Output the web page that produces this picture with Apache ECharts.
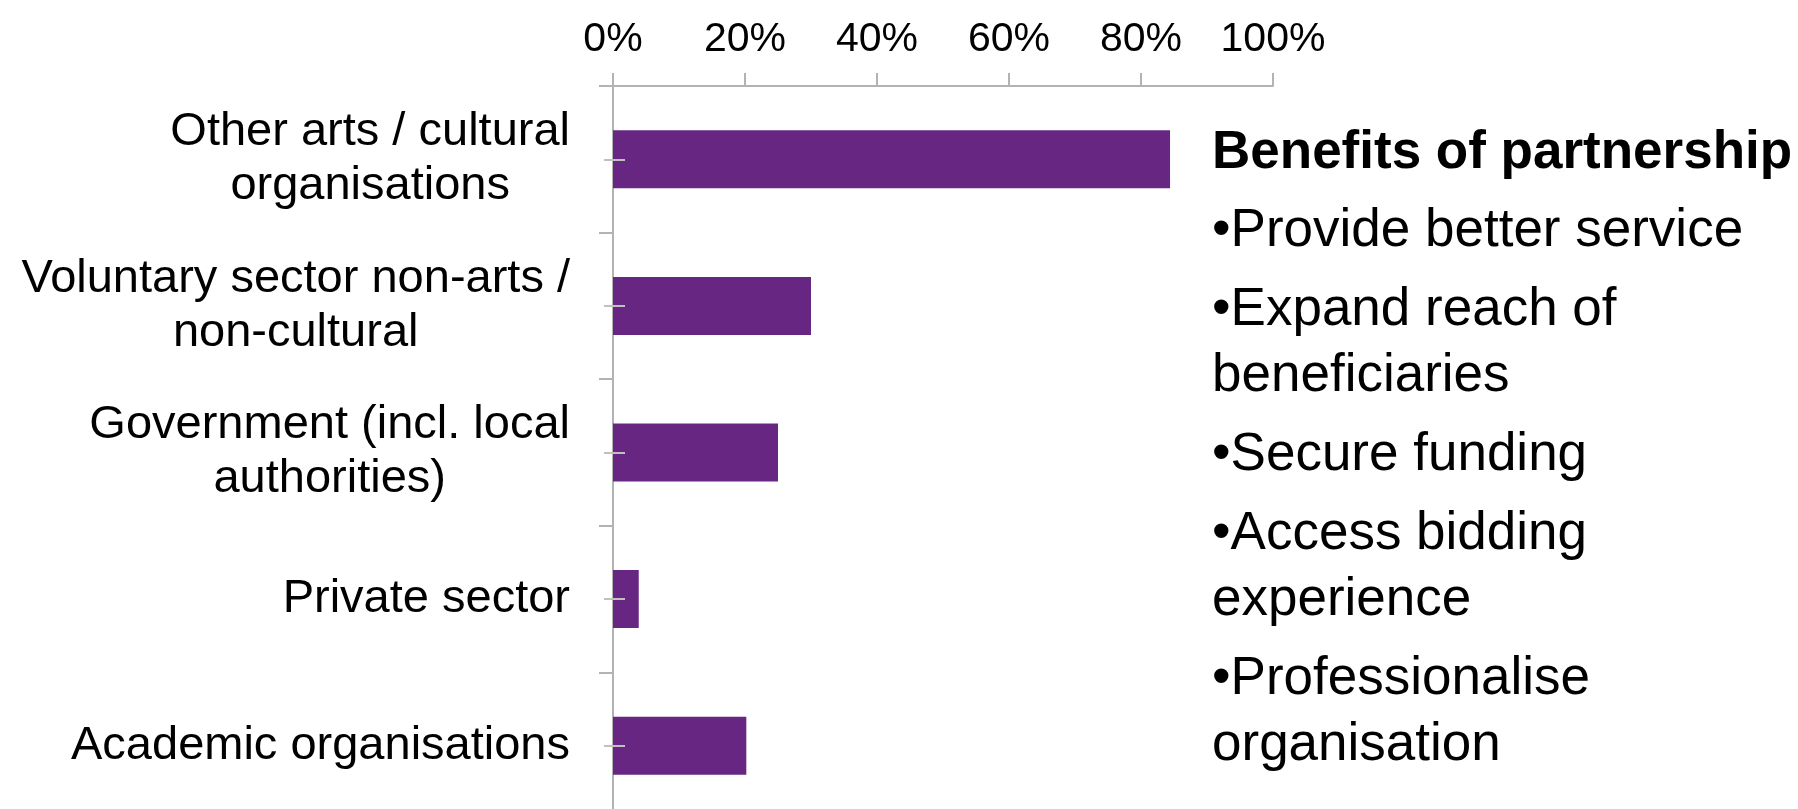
<!DOCTYPE html>
<html>
<head>
<meta charset="utf-8">
<script src="https://cdn.jsdelivr.net/npm/echarts@6/dist/echarts.min.js"></script>
<style>
html,body{margin:0;padding:0;background:#fff;}
#chart{width:1798px;height:809px;}
</style>
</head>
<body>
<div id="chart"></div>
<script>
const categories = [
  "Other arts / cultural\norganisations",
  "Voluntary sector non-arts /\nnon-cultural",
  "Government (incl. local\nauthorities)",
  "Private sector",
  "Academic organisations"
];
const values = [84.4, 30, 25, 3.9, 20.2];
const tickLabels = ["0%", "20%", "40%", "60%", "80%", "100%"];
const panelTitle = "Benefits of partnership";
const benefits = [
  ["Provide better service"],
  ["Expand reach of", "beneficiaries"],
  ["Secure funding"],
  ["Access bidding", "experience"],
  ["Professionalise", "organisation"]
];

const FONT = "'Liberation Sans', Arial, sans-serif";
const chart = echarts.init(document.getElementById('chart'), null, {renderer: 'canvas'});

// build right-hand text block
const graphics = [];
graphics.push({
  type: 'text', left: 1212, top: 127,
  style: {text: panelTitle, font: 'bold 53px ' + FONT, fill: '#000'}
});
let y = 205;
benefits.forEach(function (lines) {
  lines.forEach(function (ln, i) {
    graphics.push({
      type: 'text', left: 1212, top: y,
      style: {text: (i === 0 ? '\u2022' : '') + ln, font: '53px ' + FONT, fill: '#000'}
    });
    y += 66;
  });
  y += 13;
});

chart.setOption({
  animation: false,
  backgroundColor: '#fff',
  grid: {left: 613, width: 660, top: 86, height: 733, containLabel: false, outerBoundsMode: 'none'},
  xAxis: {
    type: 'value', position: 'top', min: 0, max: 100, interval: 20,
    axisLine: {show: true, lineStyle: {color: '#b3b3b3', width: 2}},
    axisTick: {show: true, inside: false, length: 13, lineStyle: {color: '#b3b3b3', width: 2}},
    splitLine: {show: false},
    axisLabel: {
      margin: 26, color: '#000', fontFamily: FONT, fontSize: 41,
      formatter: function (v) { return tickLabels[Math.round(v / 20)]; }
    }
  },
  yAxis: [{
    type: 'category', data: categories, inverse: true,
    axisLine: {show: true, lineStyle: {color: '#b3b3b3', width: 2}},
    axisTick: {show: true, inside: false, length: 14, lineStyle: {color: '#b3b3b3', width: 2}},
    axisLabel: {
      margin: 43, color: '#000', align: 'right',
      formatter: function (v) {
        return v.split('\n').map(function (s) { return '{c|' + s + '}'; }).join('\n');
      },
      rich: {
        c: {align: 'center', fontFamily: FONT, fontSize: 47, lineHeight: 54, color: '#000'}
      }
    },
    splitLine: {show: false}
  }, {
    type: 'category', data: categories, inverse: true, position: 'left', offset: 9, z: 5,
    axisLine: {show: false},
    axisTick: {show: true, inside: true, alignWithLabel: true, length: 21, lineStyle: {color: '#c0c0c0', width: 2}},
    axisLabel: {show: false},
    splitLine: {show: false}
  }],
  series: [{
    type: 'bar', data: values, barWidth: 58, yAxisIndex: 0,
    itemStyle: {color: '#662681'}
  }],
  graphic: graphics
});
</script>
</body>
</html>
